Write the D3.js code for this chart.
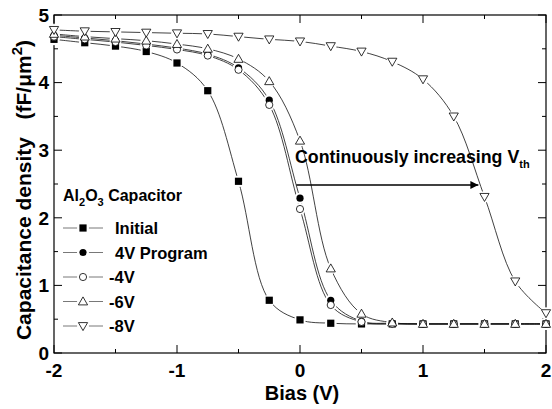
<!DOCTYPE html>
<html><head><meta charset="utf-8">
<script src="https://cdn.jsdelivr.net/npm/d3@7"></script>
<style>body{margin:0;background:#fff}svg{display:block}</style>
</head><body>
<svg id="c" width="552" height="409"></svg>
<script>
const biasV = [-2,-1.75,-1.5,-1.25,-1,-0.75,-0.5,-0.25,0,0.25,0.5,0.75,1,1.25,1.5,1.75,2];
const initialC = [4.64,4.59,4.54,4.46,4.29,3.88,2.54,0.78,0.49,0.44,0.43,0.43,0.43,0.43,0.43,0.43,0.43];
const prog4V   = [4.70,4.66,4.62,4.57,4.51,4.42,4.22,3.74,2.29,0.78,0.47,0.44,0.43,0.43,0.43,0.43,0.43];
const erase4V  = [4.68,4.64,4.60,4.55,4.49,4.40,4.19,3.67,2.13,0.71,0.46,0.43,0.43,0.43,0.43,0.43,0.43];
const erase6V  = [4.72,4.68,4.65,4.62,4.57,4.50,4.35,4.02,3.14,1.25,0.58,0.45,0.43,0.43,0.43,0.43,0.43];
const erase8V  = [4.78,4.76,4.75,4.74,4.73,4.72,4.68,4.64,4.61,4.54,4.46,4.31,4.05,3.50,2.31,1.06,0.59];
const seriesNames = ["Initial","4V Program","-4V","-6V","-8V"];
const seriesValues = [initialC, prog4V, erase4V, erase6V, erase8V];
const seriesMarkers = ["square","dot","circle","up","down"];
const xTicks = [-2,-1,0,1,2];
const yTicks = [0,1,2,3,4,5];

const svg = d3.select("#c");
const L=54,R=546,T=15,B=353;
const x = d3.scaleLinear().domain([-2,2]).range([L,R]);
const y = d3.scaleLinear().domain([0,5]).range([B,T]);
const font = "'Liberation Sans', Arial, sans-serif";

// ticks (inward) all four sides
const g = svg.append("g").attr("stroke","#000").attr("stroke-width",1);
d3.range(-2,2.001,0.5).forEach(v=>{
  const len = Math.abs(v-Math.round(v))<1e-6?8:4;
  g.append("line").attr("x1",x(v)).attr("x2",x(v)).attr("y1",B).attr("y2",B-len);
  g.append("line").attr("x1",x(v)).attr("x2",x(v)).attr("y1",T).attr("y2",T+len);
});
d3.range(0,5.001,0.5).forEach(v=>{
  const len = Math.abs(v-Math.round(v))<1e-6?8:4;
  g.append("line").attr("y1",y(v)).attr("y2",y(v)).attr("x1",L).attr("x2",L+len);
  g.append("line").attr("y1",y(v)).attr("y2",y(v)).attr("x1",R).attr("x2",R-len);
});
svg.append("rect").attr("x",L).attr("y",T).attr("width",R-L).attr("height",B-T)
  .attr("fill","none").attr("stroke","#000").attr("stroke-width",1.2);

// tick labels
svg.append("g").selectAll("text").data(xTicks).join("text")
  .attr("x",d=>x(d)).attr("y",377).attr("text-anchor","middle")
  .attr("font-family",font).attr("font-weight","bold").attr("font-size",19)
  .text(d=>d);
svg.append("g").selectAll("text").data(yTicks).join("text")
  .attr("x",49).attr("y",d=>y(d)+6.8).attr("text-anchor","end")
  .attr("font-family",font).attr("font-weight","bold").attr("font-size",19)
  .text(d=>d);

// axis titles
svg.append("text").attr("x",302).attr("y",400).attr("text-anchor","middle")
  .attr("font-family",font).attr("font-weight","bold").attr("font-size",20).text("Bias (V)");
const yt = svg.append("text").attr("transform","translate(31,190) rotate(-90)")
  .attr("text-anchor","middle").attr("font-family",font).attr("font-weight","bold").attr("font-size",21)
  .attr("xml:space","preserve").style("white-space","pre");
yt.append("tspan").text("Capacitance density   (fF/\u03BCm");
yt.append("tspan").attr("dy",-9).attr("font-size",15).text("2");
yt.append("tspan").attr("dy",9).text(")");

// markers
function drawMarker(sel, type, cx, cy){
  const s = 3.6;
  if(type==="square") sel.append("rect").attr("x",cx-s).attr("y",cy-s).attr("width",2*s).attr("height",2*s).attr("fill","#000");
  else if(type==="dot") sel.append("circle").attr("cx",cx).attr("cy",cy).attr("r",s).attr("fill","#000");
  else if(type==="circle") sel.append("circle").attr("cx",cx).attr("cy",cy).attr("r",s).attr("fill","#fff").attr("stroke","#000").attr("stroke-width",0.8);
  else if(type==="up") sel.append("path").attr("d",`M${cx},${cy-4.6}L${cx+4.6},${cy+3.4}L${cx-4.6},${cy+3.4}Z`).attr("fill","#fff").attr("stroke","#000").attr("stroke-width",0.8);
  else if(type==="down") sel.append("path").attr("d",`M${cx},${cy+4.6}L${cx+4.6},${cy-3.4}L${cx-4.6},${cy-3.4}Z`).attr("fill","#fff").attr("stroke","#000").attr("stroke-width",0.8);
}

const line = d3.line().x((d,i)=>x(biasV[i])).y(d=>y(d)).curve(d3.curveCatmullRom.alpha(0.5));
const lines = svg.append("g");
seriesValues.forEach(vals=>{
  lines.append("path").attr("d",line(vals)).attr("fill","none").attr("stroke","#111").attr("stroke-width",0.8);
});
const halos = svg.append("g");
seriesValues.forEach(vals=>{
  vals.forEach((v,i)=>halos.append("circle").attr("cx",x(biasV[i])).attr("cy",y(v)).attr("r",5.8).attr("fill","#fff"));
});
const marks = svg.append("g");
seriesValues.forEach((vals,k)=>{
  vals.forEach((v,i)=>drawMarker(marks, seriesMarkers[k], x(biasV[i]), y(v)));
});

// legend
const lg = svg.append("g");
const t0 = lg.append("text").attr("x",63).attr("y",201).attr("font-family",font).attr("font-weight","bold").attr("font-size",16);
t0.append("tspan").text("Al");
t0.append("tspan").attr("dy",5).attr("font-size",11).text("2");
t0.append("tspan").attr("dy",-5).text("O");
t0.append("tspan").attr("dy",5).attr("font-size",11).text("3");
t0.append("tspan").attr("dy",-5).text(" Capacitor");
seriesNames.forEach((n,k)=>{
  const cy = 228 + k*24.5;
  lg.append("line").attr("x1",63).attr("x2",103).attr("y1",cy).attr("y2",cy).attr("stroke","#555").attr("stroke-width",0.8);
  lg.append("circle").attr("cx",83).attr("cy",cy).attr("r",6).attr("fill","#fff");
  drawMarker(lg, seriesMarkers[k], 83, cy);
  lg.append("text").attr("x", n.startsWith("-")?109:115).attr("y",cy+6)
    .attr("font-family",font).attr("font-weight","bold").attr("font-size",16.5).text(n);
});

// annotation
const at = svg.append("text").attr("x",295).attr("y",163).attr("font-family",font).attr("font-weight","bold").attr("font-size",17.8);
at.append("tspan").text("Continuously increasing V");
at.append("tspan").attr("dy",5).attr("font-size",11).text("th");
svg.append("defs").append("marker").attr("id","ah").attr("viewBox","0 0 10 10").attr("refX",10).attr("refY",5)
  .attr("markerWidth",10).attr("markerHeight",8).attr("markerUnits","userSpaceOnUse").attr("orient","auto")
  .append("path").attr("d","M0,0L10,5L0,10Z").attr("fill","#000");
svg.append("line").attr("x1",x(-0.03)).attr("x2",x(1.45)).attr("y1",185).attr("y2",185)
  .attr("stroke","#000").attr("stroke-width",1.6).attr("marker-end","url(#ah)");
</script>
</body></html>
